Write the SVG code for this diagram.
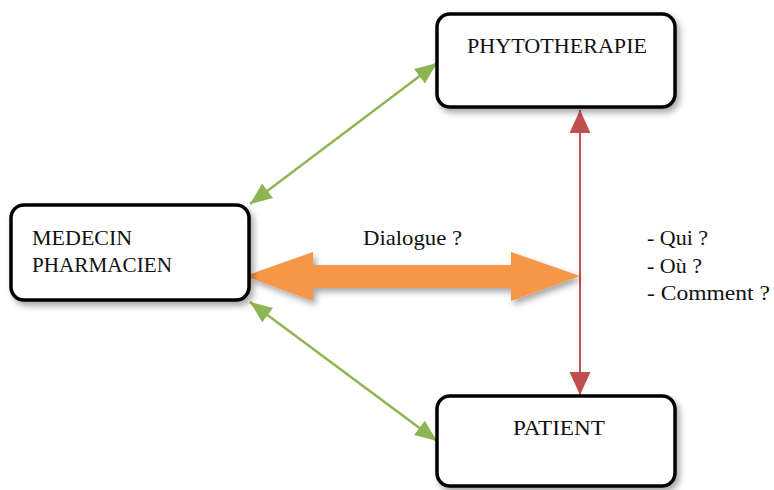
<svg xmlns="http://www.w3.org/2000/svg" width="774" height="490" viewBox="0 0 774 490">
<style>
.box{fill:#fff;stroke:#000;stroke-width:3.5;filter:url(#sh)}
.t{font-family:"Liberation Serif","DejaVu Serif",serif;font-size:22px;fill:#111}
.g{stroke:#8db551;stroke-width:2.5;fill:none;marker-start:url(#ga);marker-end:url(#ga)}
.r{stroke:#c0504d;stroke-width:2;fill:none;marker-start:url(#ra);marker-end:url(#ra)}
</style>
<defs>
<filter id="sh" x="-10%" y="-10%" width="130%" height="140%">
<feDropShadow dx="3" dy="4" stdDeviation="3" flood-color="#000" flood-opacity="0.35"/>
</filter>
<marker id="ga" markerUnits="userSpaceOnUse" markerWidth="24" markerHeight="20" refX="22" refY="9" orient="auto-start-reverse" viewBox="0 0 24 18">
<path d="M0,0 L22,9 L0,18 Z" fill="#8db551"/>
</marker>
<marker id="ra" markerUnits="userSpaceOnUse" markerWidth="24" markerHeight="22" refX="23" refY="10.5" orient="auto-start-reverse" viewBox="0 0 24 21">
<path d="M0,0 L23,10.5 L0,21 Z" fill="#c0504d"/>
</marker>
</defs>
<g id="connectors">
<line class="g" x1="250" y1="204" x2="437" y2="63"/>
<line class="g" x1="250" y1="302" x2="437" y2="441"/>
<line class="r" x1="580" y1="110" x2="580" y2="395"/>
<polygon points="245,276 313,252 313,265 511,265 511,252 580,276 511,301 511,288 313,288 313,301" fill="#f79646" filter="url(#sh)"/>
</g>
<g id="phytotherapie">
<rect class="box" x="437" y="14" width="238" height="93" rx="13"/>
<text class="t" x="557" y="53" text-anchor="middle" textLength="180" lengthAdjust="spacingAndGlyphs">PHYTOTHERAPIE</text>
</g>
<g id="medecin">
<rect class="box" x="11" y="205" width="238" height="95" rx="13"/>
<text class="t" x="32" y="245">MEDECIN</text>
<text class="t" x="32" y="272" textLength="140" lengthAdjust="spacingAndGlyphs">PHARMACIEN</text>
</g>
<g id="patient">
<rect class="box" x="437" y="396" width="238" height="90" rx="13"/>
<text class="t" x="559" y="435" text-anchor="middle" textLength="92" lengthAdjust="spacingAndGlyphs">PATIENT</text>
</g>
<g id="labels">
<text class="t" x="363" y="245" font-size="21" textLength="99" lengthAdjust="spacingAndGlyphs">Dialogue ?</text>
<text class="t" x="647" y="245" font-size="20">- Qui ?</text>
<text class="t" x="647" y="273" font-size="20">- Où ?</text>
<text class="t" x="647" y="300" font-size="20" textLength="123" lengthAdjust="spacingAndGlyphs">- Comment ?</text>
</g>
</svg>
